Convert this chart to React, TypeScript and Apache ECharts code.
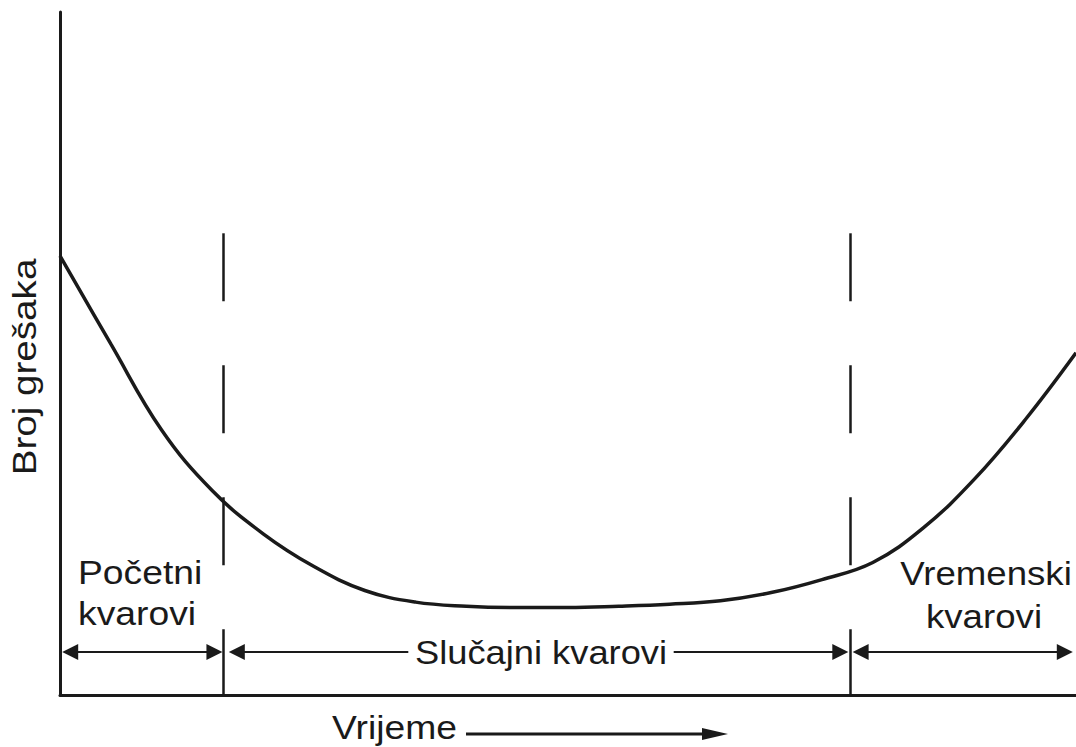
import React, { useEffect, useRef } from "react";
import * as echarts from "echarts";

// Bathtub curve (Broj grešaka vs Vrijeme), arbitrary 0..100 units
const curveX = [0, 5, 10, 15, 20, 25, 30, 35, 40, 45, 50, 55, 60, 65, 70, 75, 80, 85, 90, 95, 100];
const curveY = [64.3, 51.4, 38.8, 29.9, 23.6, 18.8, 15.3, 13.6, 13.0, 12.8, 12.8, 13.0, 13.3, 13.8, 15.0, 16.9, 19.4, 24.5, 31.6, 40.3, 50.1];

// Phase boundaries (dashed verticals)
const phaseBounds = [16.1, 77.8];
const dashTop = 67.6;

// Phase arrows (start, end) at height arrowY
const arrowY = 6.3;
const arrowStarts = [1.0, 17.4, 78.8];
const arrowEnds = [15.2, 76.8, 98.9];

const yAxisTitle = "Broj grešaka";
const xAxisTitle = "Vrijeme";
const phaseEarly = ["Početni", "kvarovi"];
const phaseRandom = "Slučajni kvarovi";
const phaseWear = ["Vremenski", "kvarovi"];

const FONT = "'Liberation Sans', Arial, Helvetica, sans-serif";
const INK = "#1a1a1a";

export default function App() {
  const ref = useRef<HTMLDivElement>(null);

  useEffect(() => {
    document.body.style.margin = "0";
    if (!ref.current) return;
    const chart = echarts.init(ref.current, null, { renderer: "svg" });

    const textStyle = (extra: any = {}) => ({
      fill: INK,
      font: `33px ${FONT}`,
      ...extra,
    });

    chart.setOption({
      animation: false,
      backgroundColor: "#ffffff",
      grid: { left: 60, right: 0, top: 12, bottom: 52, containLabel: false },
      xAxis: {
        type: "value",
        min: 0,
        max: 100,
        axisLine: { show: true, onZero: false, lineStyle: { color: INK, width: 3 } },
        axisTick: { show: false },
        axisLabel: { show: false },
        splitLine: { show: false },
      },
      yAxis: {
        type: "value",
        min: 0,
        max: 100,
        axisLine: { show: true, onZero: false, lineStyle: { color: INK, width: 3 } },
        axisTick: { show: false },
        axisLabel: { show: false },
        splitLine: { show: false },
      },
      series: [
        {
          type: "line",
          data: curveX.map((x, i) => [x, curveY[i]]),
          symbol: "none",
          smooth: 0.4,
          silent: true,
          lineStyle: { color: INK, width: 3.5 },
          markLine: {
            silent: true,
            symbol: ["none", "none"],
            label: { show: false },
            lineStyle: { color: INK, width: 2.5, type: [68, 64] },
            data: phaseBounds.map((b) => [
              { coord: [b, dashTop] },
              { coord: [b, 0] },
            ]),
          },
        },
        {
          type: "line",
          data: [],
          symbol: "none",
          silent: true,
          markLine: {
            silent: true,
            symbol: ["triangle", "triangle"],
            symbolSize: 16,
            label: { show: false },
            lineStyle: { color: INK, width: 2, type: "solid" },
            data: arrowStarts.map((s, i) => [
              { coord: [s, arrowY] },
              { coord: [arrowEnds[i], arrowY] },
            ]),
          },
        },
      ],
      graphic: [
        {
          type: "text",
          z: 100,
          x: 25,
          y: 367,
          rotation: Math.PI / 2,
          scaleX: 1.17,
          style: textStyle({ text: yAxisTitle, align: "center", verticalAlign: "middle" }),
        },
        {
          type: "text",
          z: 100,
          x: 78,
          y: 572,
          scaleX: 1.13,
          style: textStyle({ text: phaseEarly[0], align: "left", verticalAlign: "middle" }),
        },
        {
          type: "text",
          z: 100,
          x: 78,
          y: 613,
          scaleX: 1.13,
          style: textStyle({ text: phaseEarly[1], align: "left", verticalAlign: "middle" }),
        },
        {
          type: "text",
          z: 100,
          x: 986,
          y: 573,
          scaleX: 1.11,
          style: textStyle({ text: phaseWear[0], align: "center", verticalAlign: "middle" }),
        },
        {
          type: "text",
          z: 100,
          x: 984,
          y: 616,
          scaleX: 1.11,
          style: textStyle({ text: phaseWear[1], align: "center", verticalAlign: "middle" }),
        },
        {
          type: "text",
          z: 100,
          x: 541,
          y: 653,
          scaleX: 1.1,
          style: textStyle({
            text: phaseRandom,
            align: "center",
            verticalAlign: "middle",
            backgroundColor: "#ffffff",
            padding: [2, 6],
          }),
        },
        {
          type: "text",
          z: 100,
          x: 332,
          y: 727,
          scaleX: 1.13,
          style: textStyle({ text: xAxisTitle, align: "left", verticalAlign: "middle" }),
        },
        {
          type: "line",
          z: 100,
          shape: { x1: 466, y1: 734, x2: 706, y2: 734 },
          style: { stroke: INK, lineWidth: 3 },
        },
        {
          type: "polygon",
          z: 100,
          shape: { points: [[702, 728], [728, 734], [702, 740]] },
          style: { fill: INK },
        },
      ],
    });

    return () => chart.dispose();
  }, []);

  return <div ref={ref} style={{ width: 1076, height: 747 }} />;
}
